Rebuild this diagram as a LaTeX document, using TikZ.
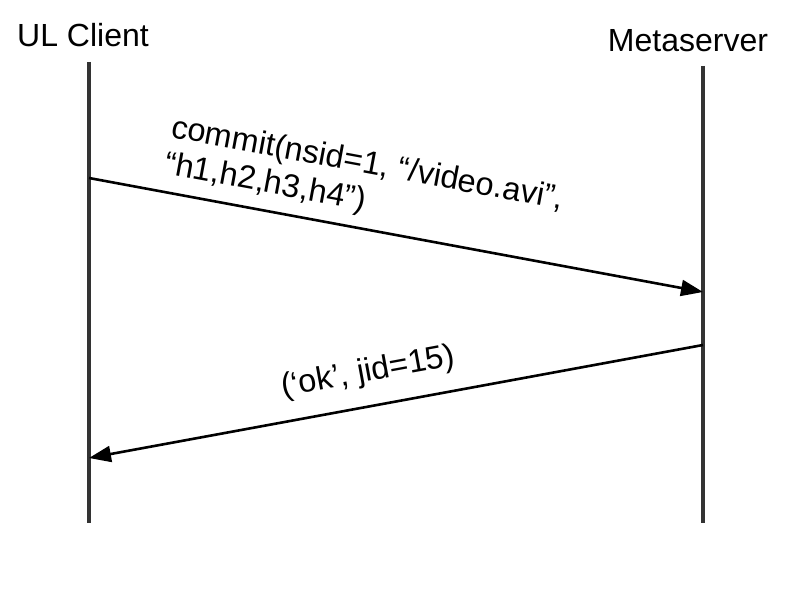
\documentclass[tikz,border=0pt]{standalone}
\usepackage{fontspec}
\setmainfont{Liberation Sans}
\usetikzlibrary{arrows.meta}
\begin{document}
\begin{tikzpicture}[x=1pt,y=-1pt,
  actor/.style={inner sep=0pt, anchor=base, font=\fontsize{32}{38}\selectfont},
  lifeline/.style={draw=black!80, line width=3.1pt},
  msg/.style={draw=black, line width=2.6pt, -{Triangle[length=22pt,width=16pt]}},
  msglabel/.style={inner sep=0pt, anchor=base west, font=\fontsize{32.5}{37}\selectfont}]
\useasboundingbox (0,0) rectangle (791,588);
\fill[white] (0,0) rectangle (791,588);
\node[actor] (ul) at (83,47) {UL Client};
\node[actor] (ms) at (688,52) {Metaserver};
\coordinate (ultop) at (89,62);
\coordinate (ulbot) at (89,523);
\coordinate (mstop) at (703,66);
\coordinate (msbot) at (703,523);
\draw[lifeline] (ultop) -- (ulbot);
\draw[lifeline] (mstop) -- (msbot);
\coordinate (c1s) at (89,178);
\coordinate (c1e) at (703,292);
\coordinate (c2s) at (703,345);
\coordinate (c2e) at (89,458);
\draw[msg] (c1s) -- (c1e);
\draw[msg] (c2s) -- (c2e);
\node[msglabel, rotate=-10.5] (l1) at (170,137)
  {\vtop{\hbox{commit(nsid=1, “/video.avi”,}\hbox{“h1,h2,h3,h4”)}}};
\node[msglabel, rotate=10.4] (l2) at (283,397) {(‘ok’, jid=15)};
\end{tikzpicture}
\end{document}
